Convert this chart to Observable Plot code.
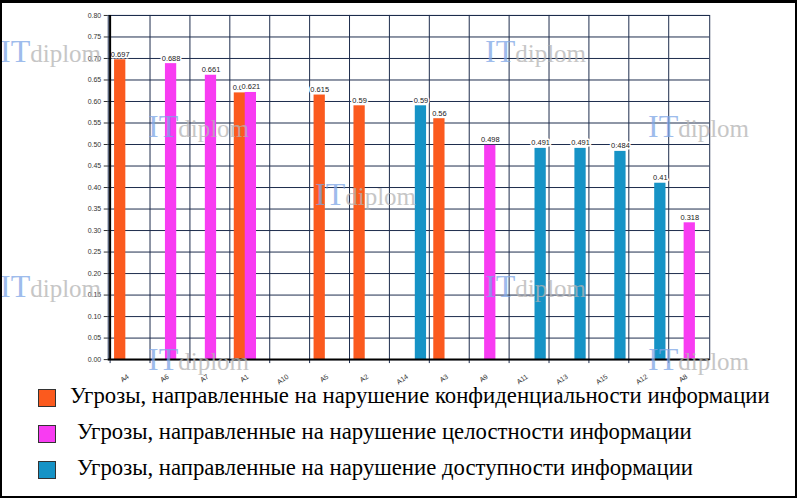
<!DOCTYPE html>
<html>
<head>
<meta charset="utf-8">
<script src="https://cdn.jsdelivr.net/npm/d3@7"></script>
<script src="https://cdn.jsdelivr.net/npm/@observablehq/plot@0.6"></script>
<style>
  html, body { margin: 0; padding: 0; background: #fff; }
  #wrap { position: relative; width: 797px; height: 498px; box-sizing: border-box;
          border: 2px solid #000; border-top-width: 3px; overflow: hidden; background: #fff; }
  #chart { position: absolute; left: -2px; top: -3px; }
  #legend { position: absolute; left: 0; top: 0; font-family: "Liberation Serif", "DejaVu Serif", "Times New Roman", serif; font-size: 19px; color: #000; }
  .lg { position: absolute; white-space: nowrap; line-height: 1; }
  .sw { position: absolute; width: 18px; height: 18px; box-sizing: border-box; border: 1px solid #333; }
  .wm { position: absolute; font-family: "Liberation Serif", "DejaVu Serif", serif; white-space: nowrap; opacity: 0.75; pointer-events: none; }
  .wm .it { color: #7ea6e6; font-size: 32px; }
  .wm .dp { color: #b4b4b4; font-size: 25px; }
</style>
</head>
<body>
<div id="wrap">
  <div id="chart"></div>
  <div id="legend"></div>
  <div id="wm"></div>
</div>
<script>
const categories = ["A4","A6","A7","A1","A10","A5","A2","A14","A3","A9","A11","A13","A15","A12","A8"];
const confidentiality = [0.697, null, null, 0.62, null, 0.615, 0.59, null, 0.56, null, null, null, null, null, null];
const integrity       = [null, 0.688, 0.661, 0.621, null, null, null, null, null, 0.498, null, null, null, null, 0.318];
const availability    = [null, null, null, null, null, null, null, 0.59, null, null, 0.491, 0.491, 0.484, 0.41, null];
const seriesNames = [
  "Угрозы, направленные на нарушение конфиденциальности информации",
  "Угрозы, направленные на нарушение целостности информации",
  "Угрозы, направленные на нарушение доступности информации"
];
const seriesColors = ["#fb5a1e", "#f83cf2", "#1693c6"];
const yTicks = [0,0.05,0.1,0.15,0.2,0.25,0.3,0.35,0.4,0.45,0.5,0.55,0.6,0.65,0.7,0.75,0.8];

const W = 797, H = 392;
const mL = 108, mR = 86, mT = 15, mB = 32;
const bw = (W - mL - mR) / categories.length;

const seriesData = [confidentiality, integrity, availability].map(arr =>
  categories.map((c, i) => ({cat: c, v: arr[i]})).filter(d => d.v != null));
const offsets = [-10, 1, 11.5];

const marks = [
  Plot.ruleY(yTicks, {stroke: "#1d2c4c", strokeWidth: 1}),
  Plot.ruleX(categories, {x: d => d, dx: -bw / 2, stroke: "#1d2c4c", strokeWidth: 1, insetBottom: -4}),
  Plot.frame({stroke: "#1d2c4c", strokeWidth: 1})
];
seriesData.forEach((data, k) => {
  marks.push(Plot.barY(data, {x: "cat", y: "v", fill: seriesColors[k], dx: offsets[k],
    insetLeft: (bw - 11.5) / 2, insetRight: (bw - 11.5) / 2}));
});
seriesData.forEach((data, k) => {
  marks.push(Plot.text(data, {x: "cat", y: "v", text: d => String(d.v), dx: offsets[k], dy: -3,
    lineAnchor: "bottom", fontSize: 7.5, fill: "#222", stroke: "white", strokeWidth: 3,
    fontFamily: "Liberation Sans, Arial, sans-serif"}));
});
marks.push(
  Plot.axisY({ticks: yTicks, tickFormat: d3.format(".2f"), tickSize: 4, tickPadding: 3, fontSize: 7,
    fontFamily: "Liberation Sans, Arial, sans-serif", label: null, color: "#333"}),
  Plot.axisX({tickSize: 0, tickRotate: -35, fontSize: 7, dx: -2, dy: 4,
    fontFamily: "Liberation Sans, Arial, sans-serif", label: null, color: "#333"}),
  Plot.ruleY([0], {stroke: "#000", strokeWidth: 2}),
  Plot.ruleX([categories[0]], {x: d => d, dx: -bw / 2, stroke: "#000", strokeWidth: 2})
);

const chart = Plot.plot({
  width: W, height: H,
  marginLeft: mL, marginRight: mR, marginTop: mT, marginBottom: mB,
  x: {type: "band", domain: categories, padding: 0, axis: null},
  y: {domain: [0, 0.8], axis: null},
  style: {background: "transparent"},
  marks
});
document.getElementById("chart").appendChild(chart);

// legend
const legend = document.getElementById("legend");
const rows = [{y: 386, tx: 68}, {y: 422, tx: 75}, {y: 458, tx: 75}];
const texts = [];
seriesNames.forEach((name, k) => {
  const sw = document.createElement("div");
  sw.className = "sw";
  sw.style.left = "36px"; sw.style.top = rows[k].y + "px";
  sw.style.background = seriesColors[k];
  legend.appendChild(sw);
  const t = document.createElement("div");
  t.className = "lg";
  t.style.left = rows[k].tx + "px";
  t.textContent = name;
  legend.appendChild(t);
  texts.push(t);
});
// fit first line to the reference's width (≈700px)
const w0 = texts[0].getBoundingClientRect().width;
const fs = 19 * 700 / w0;
texts.forEach((t, k) => {
  t.style.fontSize = fs + "px";
  t.style.top = (rows[k].y + 9 - fs * 0.55) + "px";
});

// watermarks
const wmPos = [[-2,30],[483,30],[146,105],[646,105],[313,173],[-2,265],[483,265],[146,338],[646,338]];
const wm = document.getElementById("wm");
wmPos.forEach(([x, y]) => {
  const d = document.createElement("div");
  d.className = "wm";
  d.style.left = x + "px"; d.style.top = y + "px";
  d.innerHTML = '<span class="it">IT</span><span class="dp">diplom</span>';
  wm.appendChild(d);
});
</script>
</body>
</html>
